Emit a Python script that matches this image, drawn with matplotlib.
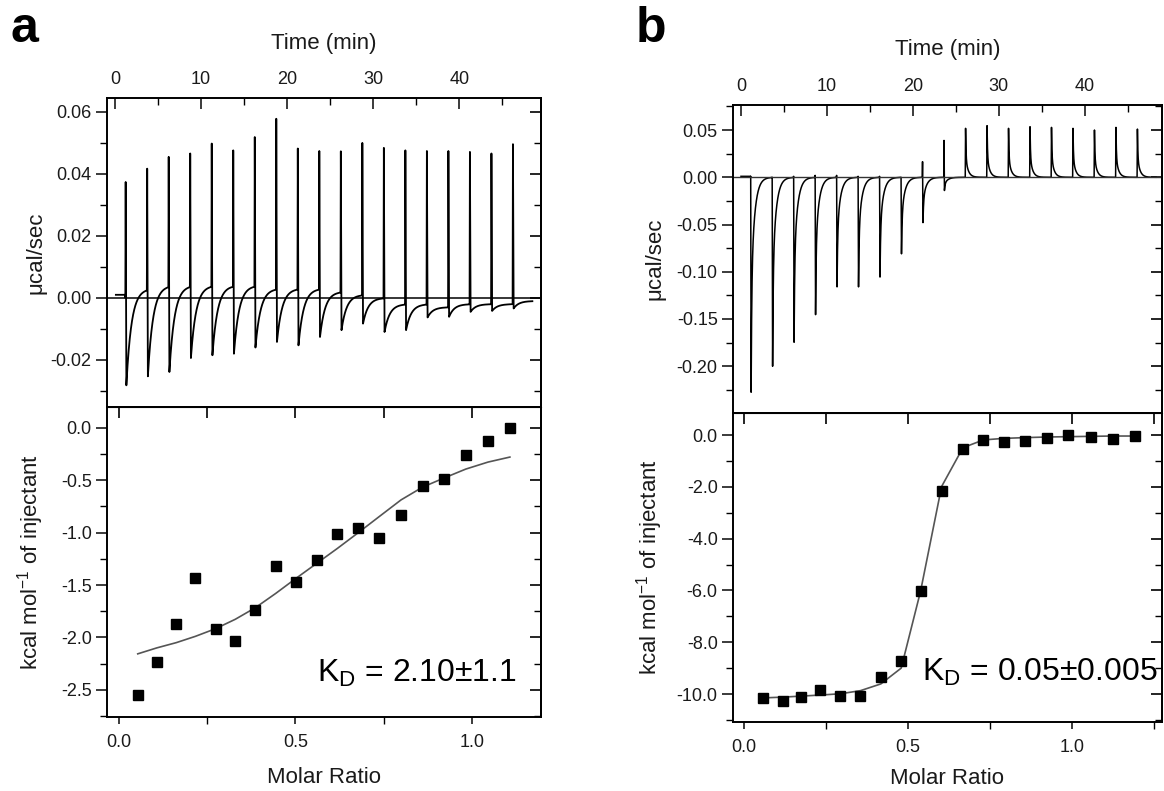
import numpy as np
import matplotlib.pyplot as plt
from matplotlib.ticker import MultipleLocator

plt.rcParams['font.family'] = ['Liberation Sans', 'DejaVu Sans']
plt.rcParams['mathtext.default'] = 'regular'

# ---- panel a, raw heats (ucal/sec) ----
inj_t_a = [1.2, 3.7, 6.2, 8.7, 11.2, 13.7, 16.2, 18.7, 21.2, 23.7,
           26.2, 28.7, 31.2, 33.7, 36.2, 38.7, 41.2, 43.7, 46.2]
peak_a = [0.0374, 0.0417, 0.0455, 0.0466, 0.0498, 0.0476, 0.0519, 0.0578, 0.0482, 0.0474,
          0.0473, 0.0500, 0.0484, 0.0476, 0.0474, 0.0474, 0.0471, 0.0466, 0.0496]
dip_a = [-0.0282, -0.0253, -0.0239, -0.0194, -0.0185, -0.0180, -0.0160, -0.0142, -0.0153, -0.0126,
         -0.0104, -0.0083, -0.0110, -0.0104, -0.0063, -0.0061, -0.0045, -0.0042, -0.0034]
rest_a = [0.003, 0.004, 0.004, 0.004, 0.004, 0.004, 0.003, 0.003, 0.003, 0.002,
          0.001, 0.000, -0.002, -0.002, -0.003, -0.002, -0.002, -0.002, -0.001]

# ---- panel b, raw heats (ucal/sec) ----
inj_t_b = [1.1, 3.6, 6.1, 8.6, 11.1, 13.6, 16.1, 18.6, 21.1, 23.6,
           26.1, 28.6, 31.1, 33.6, 36.1, 38.6, 41.1, 43.6, 46.1]
up_b = [0.001, 0.000, 0.001, 0.002, 0.002, 0.001, 0.001, 0.000, 0.0165, 0.039,
        0.0518, 0.0546, 0.0518, 0.0535, 0.0528, 0.0518, 0.0500, 0.0528, 0.0510]
down_b = [-0.2275, -0.2000, -0.1746, -0.1454, -0.1160, -0.1160, -0.1056, -0.0810, -0.0480, -0.0140,
          0, 0, 0, 0, 0, 0, 0, 0, 0]

# ---- integrated heats ----
ratio_a = [0.054, 0.108, 0.163, 0.217, 0.274, 0.330, 0.387, 0.444, 0.501, 0.560,
           0.619, 0.678, 0.737, 0.799, 0.860, 0.920, 0.982, 1.045, 1.107]
heat_a = [-2.553, -2.236, -1.869, -1.431, -1.920, -2.038, -1.741, -1.316, -1.473, -1.262,
          -1.016, -0.952, -1.048, -0.834, -0.553, -0.486, -0.262, -0.128, 0.0]
fit_a = [-2.157, -2.10, -2.05, -1.99, -1.917, -1.827, -1.716, -1.581, -1.438, -1.294,
         -1.15, -1.0, -0.847, -0.687, -0.565, -0.479, -0.393, -0.326, -0.278]

ratio_b = [0.058, 0.118, 0.175, 0.233, 0.294, 0.355, 0.417, 0.479, 0.538, 0.602,
           0.667, 0.729, 0.791, 0.857, 0.923, 0.988, 1.056, 1.123, 1.190]
heat_b = [-10.15, -10.26, -10.13, -9.86, -10.08, -10.06, -9.33, -8.74, -6.03, -2.15,
          -0.553, -0.206, -0.257, -0.231, -0.103, 0.0, -0.09, -0.154, -0.026]
fit_b = [-10.15, -10.12, -10.08, -10.04, -9.99, -9.87, -9.61, -9.0, -6.03, -1.99,
         -0.49, -0.19, -0.13, -0.10, -0.077, -0.064, -0.051, -0.039, -0.039]


def trace_a(t):
    y = np.zeros_like(t)
    prev = 0.0
    ends = inj_t_a[1:] + [t[-1] + 1]
    for t0, t1, p, d, r in zip(inj_t_a, ends, peak_a, dip_a, rest_a):
        m = (t >= t0) & (t < t1)
        dt = t[m] - t0
        seg = np.where(dt < 0.04, prev + (p - prev) * dt / 0.04,
              np.where(dt < 0.12, p + (d - p) * (dt - 0.04) / 0.08,
                       r + (d - r) * np.exp(-(dt - 0.12) / 0.6)))
        y[m] = seg
        prev = r
    y[t < inj_t_a[0]] = 0.001
    return y


def trace_b(t):
    y = np.full_like(t, 0.001)
    ends = inj_t_b[1:] + [t[-1] + 1]
    for t0, t1, u, d in zip(inj_t_b, ends, up_b, down_b):
        m = (t >= t0) & (t < t1)
        dt = t[m] - t0
        if d < 0:
            x = dt - 0.08
            seg = np.where(dt < 0.03, u * dt / 0.03,
                  np.where(dt < 0.08, u + (d - u) * (dt - 0.03) / 0.05,
                           d * (0.5 * np.exp(-x / 0.07) + 0.5 * np.exp(-x / 0.4))))
        else:
            x = dt - 0.04
            seg = np.where(dt < 0.04, u * dt / 0.04,
                           u * (0.6 * np.exp(-x / 0.05) + 0.4 * np.exp(-x / 0.3)))
        y[m] = seg
    return y


def style(ax, top_plot):
    for s in ax.spines.values():
        s.set_linewidth(1.4)
    ax.tick_params(labelsize=13, colors='#1a1a1a')
    ax.tick_params(axis='y', which='major', direction='out', length=8, width=1.2, pad=3, right=False)
    ax.tick_params(axis='y', which='minor', direction='out', length=5, width=1.0, right=False)
    sec = ax.secondary_yaxis('right')
    sec.yaxis.set_major_locator(ax.yaxis.get_major_locator())
    sec.yaxis.set_minor_locator(ax.yaxis.get_minor_locator())
    sec.tick_params(axis='y', which='major', direction='in', length=8, width=1.2, labelright=False)
    sec.tick_params(axis='y', which='minor', direction='in', length=5, width=1.0)
    sec.spines['right'].set_linewidth(1.4)
    if top_plot:
        ax.xaxis.set_ticks_position('top')
        ax.xaxis.set_label_position('top')
        ax.tick_params(axis='x', which='major', direction='in', length=8, width=1.2, pad=7)
        ax.tick_params(axis='x', which='minor', direction='in', length=5, width=1.0)
    else:
        ax.tick_params(axis='x', which='major', direction='out', length=5, width=1.2, pad=7, top=False)
        ax.tick_params(axis='x', which='minor', direction='out', length=5, width=1.0, top=False)
        sx = ax.secondary_xaxis('top')
        sx.xaxis.set_major_locator(ax.xaxis.get_major_locator())
        sx.xaxis.set_minor_locator(ax.xaxis.get_minor_locator())
        sx.tick_params(axis='x', which='both', direction='in', length=8, width=1.2, labeltop=False)


fig = plt.figure(figsize=(11.64, 7.91), dpi=100)
W, H = 1164, 791


def place(l, t, r, b):
    return fig.add_axes([l / W, 1 - b / H, (r - l) / W, (b - t) / H])


ax1 = place(107, 98, 541, 407)
ax2 = place(107, 407, 541, 717)
ax3 = place(733, 105, 1162, 413)
ax4 = place(733, 413, 1162, 722)

lab = dict(fontsize=16, color='#1a1a1a')

# raw thermograms
ta = np.arange(0.1, 48.5, 0.005)
ax1.plot(ta, trace_a(ta), color='black', lw=1.3)
ax1.axhline(0, color='black', lw=1.1)
ax1.set_xlim(-0.93, 49.5)
ax1.set_ylim(-0.0352, 0.0645)
ax1.xaxis.set_major_locator(MultipleLocator(10))
ax1.xaxis.set_minor_locator(MultipleLocator(5))
ax1.yaxis.set_major_locator(MultipleLocator(0.02))
ax1.yaxis.set_minor_locator(MultipleLocator(0.01))
ax1.yaxis.set_major_formatter(lambda v, p: f'{v:.2f}')
ax1.set_xlabel('Time (min)', labelpad=16, **lab)
ax1.set_ylabel('μcal/sec', **lab)
style(ax1, True)

tb = np.arange(0.0, 48.3, 0.005)
ax3.plot(tb, trace_b(tb), color='black', lw=1.1)
ax3.axhline(0, color='#333333', lw=1.0)
ax3.set_xlim(-0.93, 49.0)
ax3.set_ylim(-0.2495, 0.0765)
ax3.xaxis.set_major_locator(MultipleLocator(10))
ax3.xaxis.set_minor_locator(MultipleLocator(5))
ax3.yaxis.set_major_locator(MultipleLocator(0.05))
ax3.yaxis.set_minor_locator(MultipleLocator(0.025))
ax3.yaxis.set_major_formatter(lambda v, p: f'{v:.2f}')
ax3.set_xlabel('Time (min)', labelpad=17, **lab)
ax3.set_ylabel('μcal/sec', **lab)
style(ax3, True)

# binding isotherms
ax2.plot(ratio_a, fit_a, color='#555555', lw=1.2)
ax2.plot(ratio_a, heat_a, 's', color='black', ms=7.5)
ax2.set_xlim(-0.033, 1.195)
ax2.set_ylim(-2.76, 0.2)
ax2.xaxis.set_major_locator(MultipleLocator(0.5))
ax2.xaxis.set_minor_locator(MultipleLocator(0.25))
ax2.yaxis.set_major_locator(MultipleLocator(0.5))
ax2.yaxis.set_minor_locator(MultipleLocator(0.25))
ax2.xaxis.set_major_formatter(lambda v, p: f'{v:.1f}')
ax2.yaxis.set_major_formatter(lambda v, p: f'{v:.1f}')
ax2.set_xlabel('Molar Ratio', labelpad=12, **lab)
ax2.set_ylabel('kcal mol$^{-1}$ of injectant', **lab)
ax2.text(0.562, -2.428, 'K$_D$ = 2.10±1.1', fontsize=23, ha='left', va='baseline')
style(ax2, False)

ax4.plot(ratio_b, fit_b, color='#555555', lw=1.2)
ax4.plot(ratio_b, heat_b, 's', color='black', ms=7)
ax4.set_xlim(-0.033, 1.273)
ax4.set_ylim(-11.08, 0.85)
ax4.xaxis.set_major_locator(MultipleLocator(0.5))
ax4.xaxis.set_minor_locator(MultipleLocator(0.25))
ax4.yaxis.set_major_locator(MultipleLocator(2))
ax4.yaxis.set_minor_locator(MultipleLocator(1))
ax4.xaxis.set_major_formatter(lambda v, p: f'{v:.1f}')
ax4.yaxis.set_major_formatter(lambda v, p: f'{v:.1f}')
ax4.set_xlabel('Molar Ratio', labelpad=9, **lab)
ax4.set_ylabel('kcal mol$^{-1}$ of injectant', **lab)
ax4.text(0.543, -9.49, 'K$_D$ = 0.05±0.005', fontsize=23, ha='left', va='baseline')
style(ax4, False)

# y label positions
for ax, x in [(ax1, -0.14), (ax2, -0.14), (ax3, -0.158), (ax4, -0.158)]:
    ax.yaxis.set_label_coords(x, 0.5)

fig.text(11 / W, 1 - 42 / H, 'a', fontsize=36, fontweight='bold', va='baseline')
fig.text(636 / W, 1 - 42 / H, 'b', fontsize=36, fontweight='bold', va='baseline')

fig.savefig('out.png', dpi=100)
